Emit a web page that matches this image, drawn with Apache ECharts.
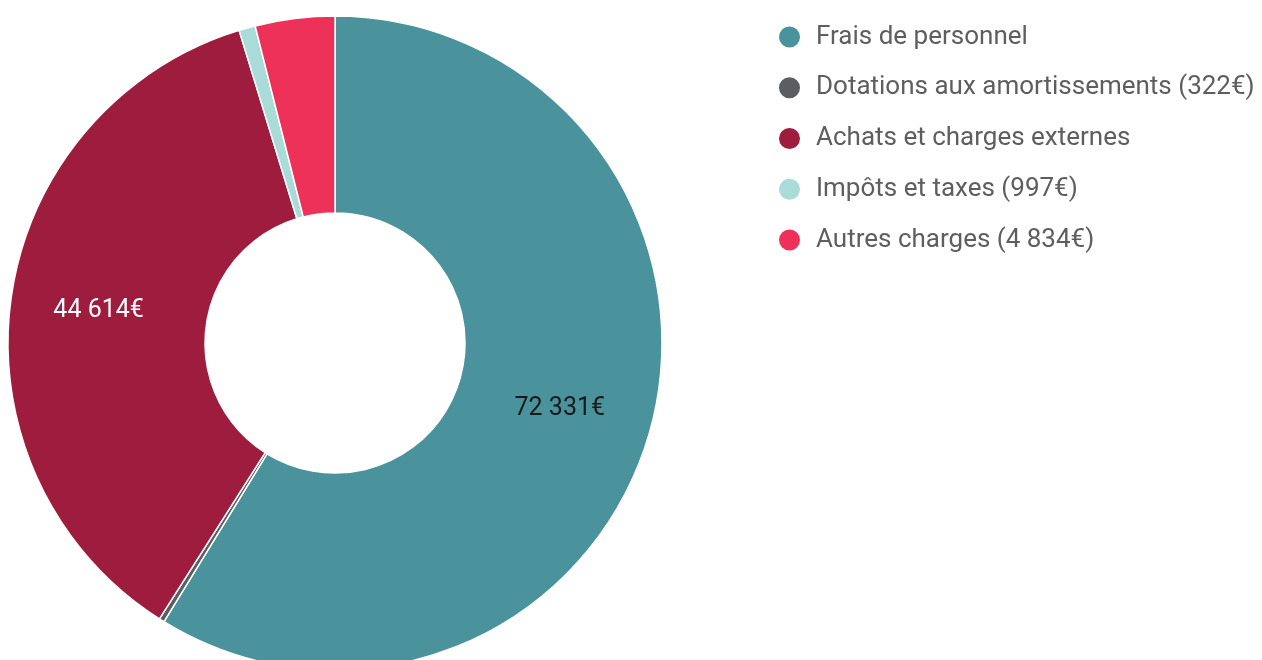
<!DOCTYPE html>
<html>
<head>
<meta charset="utf-8">
<title>Charges</title>
<script src="https://cdn.jsdelivr.net/npm/echarts@6/dist/echarts.min.js"></script>
<style>
    html, body { margin: 0; padding: 0; background: #fff; }
    #chart { width: 1262px; height: 660px; }
</style>
</head>
<body>
<div id="chart"></div>
<script>
// données du graphique
const categories = ['Frais de personnel', 'Dotations aux amortissements', 'Achats et charges externes', 'Impôts et taxes', 'Autres charges'];
const values = [72331, 322, 44614, 997, 4834];
const colors = ['#4a939d', '#5b5e61', '#9e1c3e', '#a9dcd8', '#ee3158'];
const labelColors = ['#1a1a1a', '#fff', '#fff', '#fff', '#fff'];
// étiquettes affichées dans la légende (montant ajouté pour les petites parts)
const showAmountInLegend = [false, true, false, true, true];

function formatEuro(v) {
    return String(v).replace(/\B(?=(\d{3})+(?!\d))/g, ' ') + '€';
}

const total = values.reduce((s, v) => s + v, 0);

const chart = echarts.init(document.getElementById('chart'));

chart.setOption({
    animation: false,
    color: colors,
    legend: {
        orient: 'vertical',
        left: 772,
        top: 19,
        icon: 'circle',
        itemWidth: 23,
        itemHeight: 23,
        itemGap: 24.75,
        data: categories,
        formatter: name => {
            const i = categories.indexOf(name);
            return showAmountInLegend[i] ? name + ' (' + formatEuro(values[i]) + ')' : name;
        },
        textStyle: {
            fontFamily: 'Roboto',
            fontSize: 26,
            lineHeight: 23,
            color: '#5e5e5e',
            padding: [0, 0, 0, 10]
        }
    },
    series: [{
        type: 'pie',
        center: [335, 343],
        radius: [130, 327],
        startAngle: 90,
        clockwise: true,
        avoidLabelOverlap: false,
        itemStyle: {
            borderColor: '#fff',
            borderWidth: 1.5
        },
        label: {
            position: 'inside',
            fontFamily: 'Roboto',
            fontSize: 25,
            formatter: p => p.value / total > 0.1 ? formatEuro(p.value) : ''
        },
        labelLine: { show: false },
        emphasis: { disabled: true },
        data: categories.map((name, i) => ({
            name: name,
            value: values[i],
            label: {
                color: labelColors[i],
                offset: i === 2 ? [-7, -1] : [2, 3]
            }
        }))
    }]
});
</script>
</body>
</html>
